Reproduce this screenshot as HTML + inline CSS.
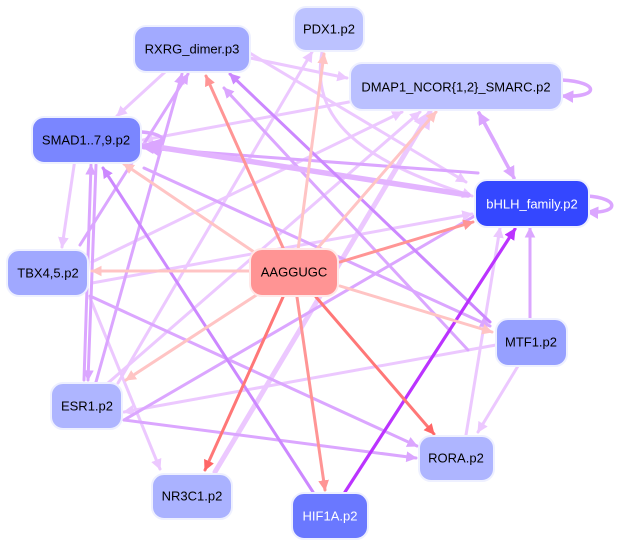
<!DOCTYPE html>
<html><head><meta charset="utf-8"><style>
html,body{margin:0;padding:0;background:#fff;}
svg{display:block;}
text{font-family:"Liberation Sans",sans-serif;font-size:13px;text-anchor:middle;dominant-baseline:central;}
</style></head><body>
<svg width="617" height="546" viewBox="0 0 617 546" xmlns="http://www.w3.org/2000/svg">
<defs>
<marker id="aL" viewBox="0 0 10 10" refX="9" refY="5" markerWidth="3.6" markerHeight="3.6" orient="auto"><path d="M0,0L10,5L0,10z" fill="#ecc8ff"/></marker>
<marker id="aM" viewBox="0 0 10 10" refX="9" refY="5" markerWidth="3.6" markerHeight="3.6" orient="auto"><path d="M0,0L10,5L0,10z" fill="#dba6ff"/></marker>
<marker id="aD" viewBox="0 0 10 10" refX="9" refY="5" markerWidth="3.6" markerHeight="3.6" orient="auto"><path d="M0,0L10,5L0,10z" fill="#cc88ff"/></marker>
<marker id="aV" viewBox="0 0 10 10" refX="9" refY="5" markerWidth="3.6" markerHeight="3.6" orient="auto"><path d="M0,0L10,5L0,10z" fill="#bb33ff"/></marker>
<marker id="rL" viewBox="0 0 10 10" refX="9" refY="5" markerWidth="3.6" markerHeight="3.6" orient="auto"><path d="M0,0L10,5L0,10z" fill="#ffc4c4"/></marker>
<marker id="rM" viewBox="0 0 10 10" refX="9" refY="5" markerWidth="3.6" markerHeight="3.6" orient="auto"><path d="M0,0L10,5L0,10z" fill="#ff9595"/></marker>
<marker id="rD" viewBox="0 0 10 10" refX="9" refY="5" markerWidth="3.6" markerHeight="3.6" orient="auto"><path d="M0,0L10,5L0,10z" fill="#ff6666"/></marker>
</defs>
<g fill="none" stroke-linecap="round">
<g stroke="#ecc8ff" stroke-width="3" marker-end="url(#aL)">
<line x1="165" y1="72" x2="117" y2="116"/>
<line x1="250" y1="58" x2="347" y2="78"/>
<line x1="349" y1="102" x2="143" y2="140"/>
<line x1="92" y1="262" x2="402" y2="112"/>
<line x1="90" y1="298" x2="160" y2="469"/>
<line x1="118" y1="383" x2="312" y2="52"/>
<line x1="108" y1="383" x2="420" y2="112"/>
<line x1="92" y1="283" x2="472" y2="214"/>
<line x1="496" y1="345" x2="124" y2="412"/>
<line x1="518" y1="366" x2="478" y2="432"/>
<line x1="466" y1="435" x2="500" y2="228"/>
<line x1="248" y1="52" x2="466" y2="182"/>
<path d="M322,52 C310,120 360,160 472,196" />
<line x1="75" y1="159" x2="62" y2="247"/>
</g>
<g stroke="#ecc8ff" stroke-width="5" marker-end="url(#aL)">
<line x1="215" y1="472" x2="430" y2="112"/>
</g>
<g stroke="#dba6ff" stroke-width="3" marker-end="url(#aM)">
<line x1="80" y1="245" x2="188" y2="74"/>
<line x1="96" y1="382" x2="182" y2="74"/>
<line x1="144" y1="168" x2="490" y2="326"/>
<line x1="90" y1="296" x2="417" y2="446"/>
<line x1="124" y1="420" x2="416" y2="458"/>
<line x1="124" y1="420" x2="490" y2="207"/>
<line x1="530" y1="318" x2="530" y2="228"/>
<line x1="96" y1="165" x2="88" y2="380"/>
<line x1="478" y1="173" x2="144" y2="148"/>
<line x1="468" y1="350" x2="224" y2="88"/>
<line x1="84" y1="380" x2="91" y2="165"/>
</g>
<g stroke="#e3b4ff" stroke-width="5.5" marker-end="url(#aM)">
<line x1="468" y1="195" x2="144" y2="145"/>
</g>
<g stroke="#dba6ff" stroke-width="3.5">
<line x1="479" y1="113" x2="514" y2="178" marker-end="url(#aM)" marker-start="url(#aMs)"/>
<line x1="497" y1="146" x2="479" y2="113" marker-end="url(#aM)"/>
<path d="M562,80 C600,82 600,98 562,96" marker-end="url(#aM)"/>
<path d="M587,196 C620,198 620,214 587,212" marker-end="url(#aM)"/>
<path d="M142,132 C170,134 170,148 142,146" marker-end="url(#aM)"/>
</g>
<g stroke="#cc88ff" stroke-width="3" marker-end="url(#aD)">
<line x1="313" y1="492" x2="103" y2="168"/>
<line x1="490" y1="322" x2="230" y2="74"/>
</g>
<line x1="345" y1="492" x2="515" y2="229" stroke="#bb33ff" stroke-width="3.2" marker-end="url(#aV)"/>
<g stroke="#ffc4c4" stroke-width="3" marker-end="url(#rL)">
<line x1="298" y1="250" x2="324" y2="54"/>
<line x1="316" y1="250" x2="436" y2="112"/>
<line x1="250" y1="271" x2="92" y2="271"/>
<line x1="254" y1="252" x2="124" y2="164"/>
<line x1="258" y1="294" x2="126" y2="380"/>
<line x1="340" y1="286" x2="492" y2="332"/>
</g>
<g stroke="#ff9595" stroke-width="3" marker-end="url(#rM)">
<line x1="284" y1="250" x2="206" y2="76"/>
<line x1="340" y1="262" x2="473" y2="222"/>
<line x1="297" y1="297" x2="325" y2="490"/>
</g>
<g stroke="#ff7777" stroke-width="3" marker-end="url(#rD)">
<line x1="283" y1="297" x2="205" y2="470"/>
<line x1="316" y1="297" x2="434" y2="434"/>
</g>
</g>
<g stroke="#eef0ff" stroke-width="2">
<rect x="294" y="7" width="70" height="44" rx="12" fill="#bcc2ff"/>
<rect x="134" y="26" width="116" height="46" rx="12" fill="#a2aaff"/>
<rect x="350" y="63" width="212" height="47" rx="12" fill="#bac0ff"/>
<rect x="32" y="117" width="109" height="46" rx="12" fill="#7a86ff"/>
<rect x="475" y="180" width="114" height="47" rx="12" fill="#3447ff"/>
<rect x="7" y="250" width="81" height="46" rx="12" fill="#a0a8ff"/>
<rect x="250" y="249" width="88" height="47" rx="12" fill="#ff9494" stroke="#ffe8e8"/>
<rect x="496" y="319" width="71" height="47" rx="12" fill="#96a0ff"/>
<rect x="51" y="383" width="71" height="46" rx="12" fill="#aeb5ff"/>
<rect x="419" y="436" width="75" height="45" rx="12" fill="#aeb5ff"/>
<rect x="152" y="474" width="80" height="45" rx="12" fill="#aab2ff"/>
<rect x="292" y="493" width="76" height="46" rx="12" fill="#6a78ff"/>
</g>
<g fill="#000">
<text x="329" y="29">PDX1.p2</text>
<text x="192" y="49">RXRG_dimer.p3</text>
<text x="456" y="87">DMAP1_NCOR{1,2}_SMARC.p2</text>
<text x="86" y="140">SMAD1..7,9.p2</text>
<text x="532" y="204" fill="#fff">bHLH_family.p2</text>
<text x="48" y="273">TBX4,5.p2</text>
<text x="294" y="272">AAGGUGC</text>
<text x="531" y="342">MTF1.p2</text>
<text x="87" y="406">ESR1.p2</text>
<text x="456" y="458">RORA.p2</text>
<text x="192" y="496">NR3C1.p2</text>
<text x="330" y="516" fill="#fff">HIF1A.p2</text>
</g>
</svg>
</body></html>
